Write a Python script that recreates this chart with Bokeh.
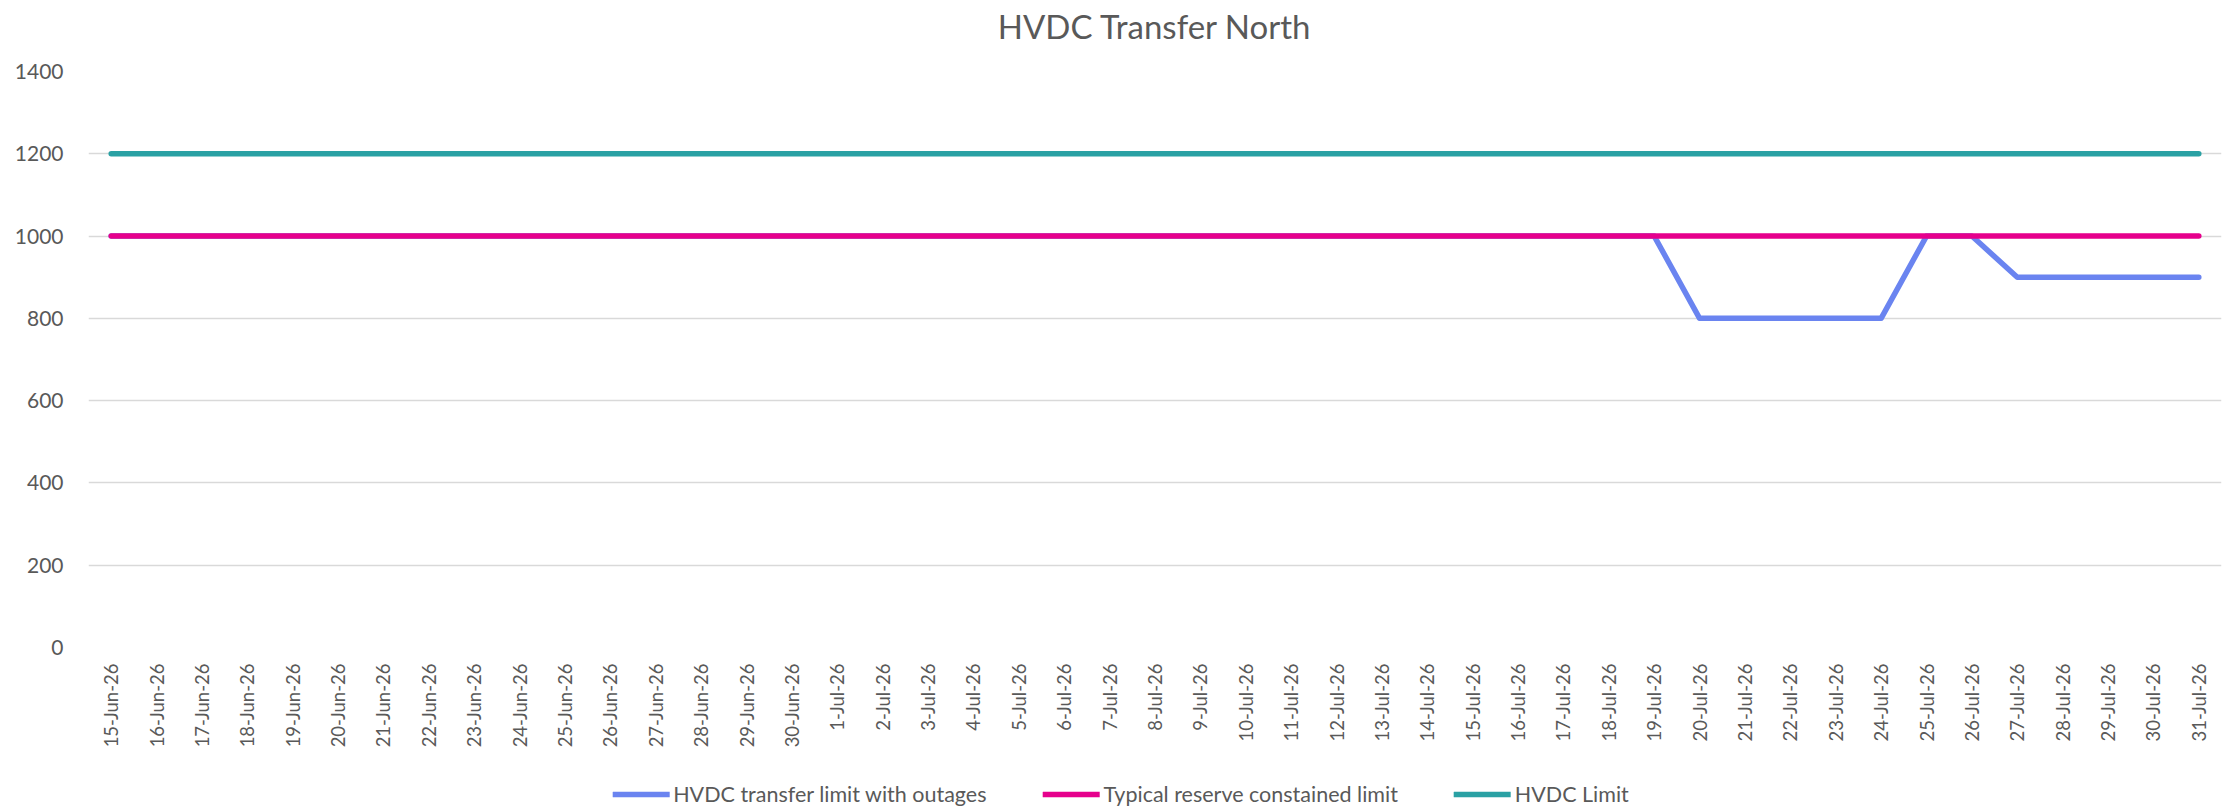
from bokeh.plotting import figure
from bokeh.models import FactorRange, Range1d, Legend, LegendItem, FixedTicker, Title
from bokeh.layouts import column
from bokeh.embed import file_html
from bokeh.resources import INLINE
import math

dates = [
    "15-Jun-26", "16-Jun-26", "17-Jun-26", "18-Jun-26", "19-Jun-26", "20-Jun-26",
    "21-Jun-26", "22-Jun-26", "23-Jun-26", "24-Jun-26", "25-Jun-26", "26-Jun-26",
    "27-Jun-26", "28-Jun-26", "29-Jun-26", "30-Jun-26", "1-Jul-26", "2-Jul-26",
    "3-Jul-26", "4-Jul-26", "5-Jul-26", "6-Jul-26", "7-Jul-26", "8-Jul-26",
    "9-Jul-26", "10-Jul-26", "11-Jul-26", "12-Jul-26", "13-Jul-26", "14-Jul-26",
    "15-Jul-26", "16-Jul-26", "17-Jul-26", "18-Jul-26", "19-Jul-26", "20-Jul-26",
    "21-Jul-26", "22-Jul-26", "23-Jul-26", "24-Jul-26", "25-Jul-26", "26-Jul-26",
    "27-Jul-26", "28-Jul-26", "29-Jul-26", "30-Jul-26", "31-Jul-26",
]

hvdc_outages = [
    1000, 1000, 1000, 1000, 1000, 1000, 1000, 1000, 1000, 1000, 1000, 1000,
    1000, 1000, 1000, 1000, 1000, 1000, 1000, 1000, 1000, 1000, 1000, 1000,
    1000, 1000, 1000, 1000, 1000, 1000, 1000, 1000, 1000, 1000, 1000, 800,
    800, 800, 800, 800, 1000, 1000, 900, 900, 900, 900, 900,
]

reserve_limit = [
    1000, 1000, 1000, 1000, 1000, 1000, 1000, 1000, 1000, 1000, 1000, 1000,
    1000, 1000, 1000, 1000, 1000, 1000, 1000, 1000, 1000, 1000, 1000, 1000,
    1000, 1000, 1000, 1000, 1000, 1000, 1000, 1000, 1000, 1000, 1000, 1000,
    1000, 1000, 1000, 1000, 1000, 1000, 1000, 1000, 1000, 1000, 1000,
]

hvdc_limit = [
    1200, 1200, 1200, 1200, 1200, 1200, 1200, 1200, 1200, 1200, 1200, 1200,
    1200, 1200, 1200, 1200, 1200, 1200, 1200, 1200, 1200, 1200, 1200, 1200,
    1200, 1200, 1200, 1200, 1200, 1200, 1200, 1200, 1200, 1200, 1200, 1200,
    1200, 1200, 1200, 1200, 1200, 1200, 1200, 1200, 1200, 1200, 1200,
]

series_names = [
    "HVDC transfer limit with outages",
    "Typical reserve constained limit",
    "HVDC Limit",
]
series_values = [hvdc_outages, reserve_limit, hvdc_limit]
series_colors = ["#6A84F0", "#E6008C", "#2AA1A4"]
y_ticks = [0, 200, 400, 600, 800, 1000, 1200, 1400]

FONT = "Lato"
TXT = "#595959"
LW = 5.5

p = figure(
    width=2239, height=761,
    x_range=FactorRange(*dates, range_padding=0),
    y_range=Range1d(0, 1400),
    output_backend="svg", toolbar_location=None,
    min_border_left=88, min_border_right=18, min_border_top=69, min_border_bottom=114,
)
p.title.text = "HVDC Transfer North"
p.title.align = "center"
p.title.vertical_align = "top"
p.title.text_font = FONT
p.title.text_font_size = "33px"
p.title.text_font_style = "normal"
p.title.text_color = TXT
# empty spacer between title and plot area, lifting the title
p.add_layout(Title(text=" ", text_font_size="16px", standoff=0), "above")

p.outline_line_color = None
p.xgrid.grid_line_color = None
p.ygrid.grid_line_color = "#D9D9D9"
p.ygrid.grid_line_width = 1.5
p.yaxis.ticker = FixedTicker(ticks=y_ticks)

for ax in (p.xaxis[0], p.yaxis[0]):
    ax.axis_line_color = None
    ax.major_tick_line_color = None
    ax.minor_tick_line_color = None
    ax.major_tick_out = 0
    ax.major_tick_in = 0
    ax.major_label_text_font = FONT
    ax.major_label_text_color = TXT

p.yaxis.major_label_text_font_size = "21px"
p.yaxis.major_label_standoff = 25
p.xaxis.major_label_text_font_size = "18.5px"
p.xaxis.major_label_orientation = math.pi / 2
p.xaxis.major_label_standoff = 16

for vals, col in zip(series_values, series_colors):
    p.line(dates, vals, line_color=col, line_width=LW, line_cap="round", line_join="round")

# legend strip below the chart (its lines fall outside the strip's visible range)
lg = figure(
    width=2171, height=46,
    x_range=FactorRange(*dates, range_padding=0), y_range=Range1d(0, 1),
    output_backend="svg", toolbar_location=None,
    x_axis_type=None, y_axis_type=None,
    min_border_left=0, min_border_right=0, min_border_top=0, min_border_bottom=0,
)
lg.outline_line_color = None
lg.xgrid.grid_line_color = None
lg.ygrid.grid_line_color = None
items = []
for name, vals, col in zip(series_names, series_values, series_colors):
    rr = lg.line(dates, vals, line_color=col, line_width=LW, line_cap="round")
    items.append(LegendItem(label=name, renderers=[rr]))

legend = Legend(
    items=items,
    orientation="horizontal", location="bottom_center",
    label_text_font=FONT, label_text_font_size="21.5px", label_text_color=TXT,
    glyph_width=57, glyph_height=20, label_standoff=4, spacing=56,
    border_line_color=None, background_fill_alpha=0,
    margin=0, padding=0,
)
lg.add_layout(legend, "center")

layout = column(p, lg, spacing=0)
open("out.html", "w").write(file_html(layout, INLINE))
